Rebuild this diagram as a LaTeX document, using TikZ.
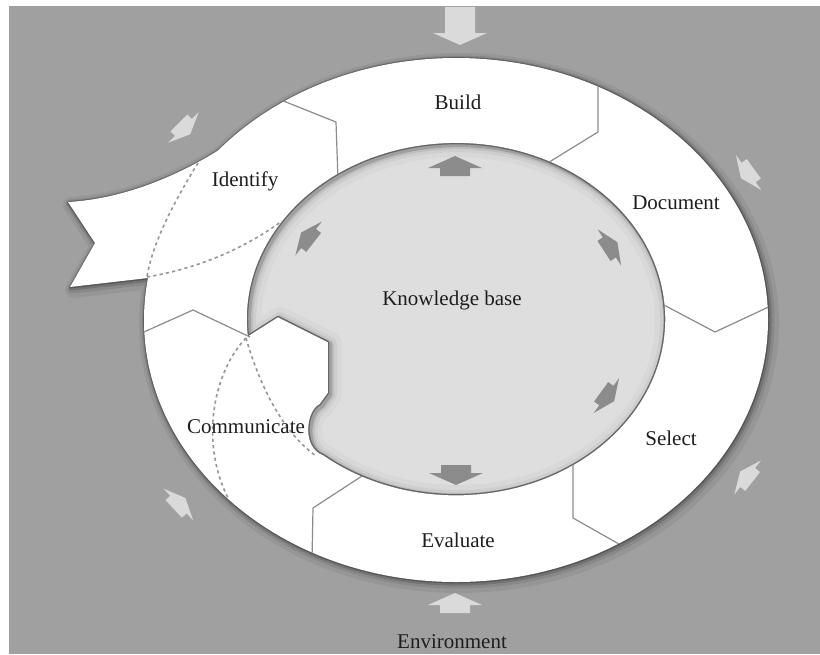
\documentclass[tikz,border=0pt]{standalone}
\usepackage{fontspec}
\setmainfont{Liberation Serif}
\usepackage{xcolor}
\usepackage{tikz}

\definecolor{bggray}{RGB}{160,160,160}
\definecolor{kbfill}{RGB}{222,222,222}
\definecolor{envgray}{RGB}{218,218,218}
\definecolor{kbgray}{RGB}{140,140,140}
\definecolor{divgray}{RGB}{140,140,140}
\definecolor{dotgray}{RGB}{150,150,150}
\definecolor{inktext}{RGB}{30,30,30}

\newcommand{\ringpath}{(456,320) ellipse[x radius=312, y radius=262]}
\newcommand{\bannerpath}{(68,202) .. controls (140,198) and (218,160) .. (283,102) -- (300,160) -- (220,270) -- (148,278) -- (70,287) -- (95,243) -- cycle}
\newcommand{\kbpath}{(248,336) arc[start angle=174.5, end angle=489.5, x radius=209, y radius=176] .. controls (303,448) and (305,412) .. (320,404) -- (328,393) -- (328,342) -- (278,317) -- cycle}

\tikzset{
  pics/flowarrow/.style={code={
    \fill (-#1,-15) -- (-1,-15) -- (-1,-27) -- (11,0) -- (-1,27) -- (-1,15) -- (-#1,15) -- cycle;
  }},
  pics/flowarrow/.default=9
}

\begin{document}
\begin{tikzpicture}[x=0.5pt, y=-0.5pt, line join=round,
    phase/.style={font=\fontsize{10.5}{12}\selectfont, text=inktext},
    divider/.style={draw=divgray, line width=0.6pt},
    wrapline/.style={draw=dotgray, line width=0.8pt, dash pattern=on 1.6pt off 1.6pt},
    envarrow/.style={fill=envgray},
    kbarrow/.style={fill=kbgray}]

  \fill[white] (0,0) rectangle (820,654);
  \fill[bggray] (9,6) rectangle (820,654);
  \useasboundingbox (0,0) rectangle (820,654);

  % soft shadow under the ring and the banner
  \foreach \w/\c/\s in {16/150/3, 9/136/2, 5/115/1.2, 2/85/0.4}{
    \definecolor{rim}{RGB}{\c,\c,\c}
    \filldraw[fill=rim, draw=rim, line width=\w*0.5pt, shift={(\s,\s)}] \ringpath;
    \filldraw[fill=rim, draw=rim, line width=\w*0.5pt, shift={(\s,\s)}] \bannerpath;
  }
  \fill[white] \ringpath;
  \fill[white] \bannerpath;

  % cell borders in the ring
  \begin{scope}
    \clip \ringpath;
    \draw[divider] (598,78) -- (598,132) -- (546,164);
    \draw[divider] (276,98) -- (336,122) -- (338,180);
    \draw[divider] (662,304) -- (715,332) -- (775,304);
    \draw[divider] (573,462) -- (573,518) -- (626,548);
    \draw[divider] (362,476) -- (313,508) -- (312,560);
    \draw[divider] (135,336) -- (193,310) -- (250,337);
  \end{scope}

  % banner running behind the ring
  \draw[wrapline] (198,163) .. controls (172,205) and (152,245) .. (147,277);
  \draw[wrapline] (147,277) .. controls (200,268) and (245,248) .. (282,221);
  \draw[wrapline] (246,338) .. controls (215,370) and (198,440) .. (229,500);
  \draw[wrapline] (246,338) .. controls (258,380) and (280,430) .. (316,456);

  % knowledge base with its inner shadow
  \fill[kbfill] \kbpath;
  \begin{scope}
    \clip \kbpath;
    \foreach \w/\c in {24/216, 14/206, 8/190, 4/160}{
      \definecolor{rim}{RGB}{\c,\c,\c}
      \draw[draw=rim, line width=\w*0.5pt, shift={(2,2)}] \kbpath;
    }
    \draw[black!60, line width=1.2pt] \kbpath;
  \end{scope}

  \pic[envarrow, rotate=-90] at (460,34) {flowarrow=27};
  \pic[envarrow, rotate=90] at (455,604) {flowarrow};
  \pic[envarrow, rotate=-45, scale=0.8] at (184,128) {flowarrow};
  \pic[envarrow, rotate=-144, scale=0.8] at (748,173) {flowarrow};
  \pic[envarrow, rotate=142, scale=0.8] at (747,477) {flowarrow};
  \pic[envarrow, rotate=43, scale=0.8] at (179,504) {flowarrow};

  \pic[kbarrow, rotate=90] at (455,167) {flowarrow};
  \pic[kbarrow, rotate=-90] at (456,474) {flowarrow};
  \pic[kbarrow, rotate=142, scale=0.8] at (308,238) {flowarrow};
  \pic[kbarrow, rotate=33, scale=0.8] at (610,247) {flowarrow};
  \pic[kbarrow, rotate=-36, scale=0.8] at (607,396) {flowarrow};

  \node[phase] (build) at (458,102) {Build};
  \node[phase] (document) at (676,203) {Document};
  \node[phase] (select) at (671,438) {Select};
  \node[phase] (evaluate) at (458,540) {Evaluate};
  \node[phase] (communicate) at (246,427) {Communicate};
  \node[phase] (identify) at (245,181) {Identify};
  \node[phase] (kb) at (452,300) {Knowledge base};
  \node[phase] (environment) at (452,642) {Environment};
\end{tikzpicture}
\end{document}
